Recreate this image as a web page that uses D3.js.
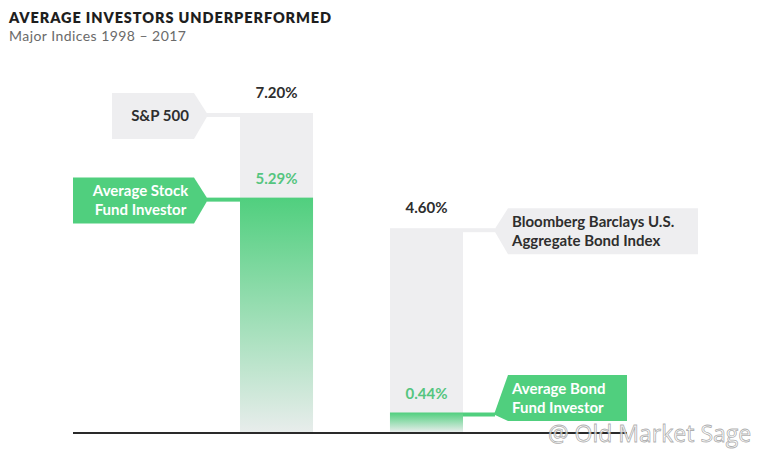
<!DOCTYPE html>
<html>
<head>
<meta charset="utf-8">
<script src="https://cdn.jsdelivr.net/npm/d3@7"></script>
<style>
  body { margin: 0; background: #fff; }
  svg { display: block; font-family: Lato, "Open Sans", sans-serif; }
</style>
</head>
<body>
<div id="chart"></div>
<script>
// data
var groups = ["Stocks", "Bonds"];
var indexNames = [["S&P 500"], ["Bloomberg Barclays U.S.", "Aggregate Bond Index"]];
var indexReturns = [7.20, 4.60];
var investorNames = [["Average Stock", "Fund Investor"], ["Average Bond", "Fund Investor"]];
var investorReturns = [5.29, 0.44];

var svgWidth = 768;
var svgHeight = 451;

var grey = "#eeeef0";
var green = "#50cf7e";
var greenText = "#55c57f";

var svg = d3.select("#chart")
    .append("svg")
    .attr("width", svgWidth)
    .attr("height", svgHeight);

// gradient for the investor bars
var grad = svg.append("defs").append("linearGradient")
    .attr("id", "greenFade")
    .attr("x1", 0).attr("y1", 0)
    .attr("x2", 0).attr("y2", 1);
grad.append("stop").attr("offset", "0%").attr("stop-color", green).attr("stop-opacity", 1);
grad.append("stop").attr("offset", "100%").attr("stop-color", green).attr("stop-opacity", 0.04);

// title
svg.append("text")
    .attr("x", 9)
    .attr("y", 23)
    .attr("font-size", 14.5)
    .attr("font-weight", 800)
    .attr("letter-spacing", 0.9)
    .attr("fill", "#1e1e1e")
    .text("AVERAGE INVESTORS UNDERPERFORMED");

svg.append("text")
    .attr("x", 9)
    .attr("y", 41)
    .attr("font-size", 14)
    .attr("letter-spacing", 0.45)
    .attr("fill", "#6a6a6a")
    .text("Major Indices 1998 \u2013 2017");

// scales
var x = d3.scaleBand()
    .domain(groups)
    .range([240, 463])
    .paddingInner(0.513)
    .paddingOuter(0);

var y = d3.scaleLinear()
    .domain([0, 7.2])
    .range([432, 113]);

var bw = x.bandwidth();

// index bars (grey)
svg.selectAll(".index-bar")
    .data(groups)
    .enter()
    .append("rect")
    .attr("class", "index-bar")
    .attr("x", d => x(d))
    .attr("y", (d, i) => y(indexReturns[i]))
    .attr("width", bw)
    .attr("height", (d, i) => y(0) - y(indexReturns[i]))
    .attr("fill", grey);

// investor bars (green fading)
svg.selectAll(".investor-bar")
    .data(groups)
    .enter()
    .append("rect")
    .attr("class", "investor-bar")
    .attr("x", d => x(d))
    .attr("y", (d, i) => y(investorReturns[i]))
    .attr("width", bw)
    .attr("height", (d, i) => y(0) - y(investorReturns[i]))
    .attr("fill", "url(#greenFade)");

// value labels
svg.selectAll(".index-val")
    .data(groups)
    .enter()
    .append("text")
    .attr("x", d => x(d) + bw / 2)
    .attr("y", (d, i) => y(indexReturns[i]) - 15)
    .attr("text-anchor", "middle")
    .attr("font-size", 15)
    .attr("font-weight", 700)
    .attr("fill", "#2e2e2e")
    .text((d, i) => indexReturns[i].toFixed(2) + "%");

svg.selectAll(".investor-val")
    .data(groups)
    .enter()
    .append("text")
    .attr("x", d => x(d) + bw / 2)
    .attr("y", (d, i) => y(investorReturns[i]) - 14)
    .attr("text-anchor", "middle")
    .attr("font-size", 15)
    .attr("font-weight", 700)
    .attr("fill", greenText)
    .text((d, i) => investorReturns[i].toFixed(2) + "%");

// callout boxes: first group points from the left, second group from the right
var boxH = 46;
var arrowW = 14;
var gap = 32;
var boxWidthsIndex = [82, 190];
var boxWidthsInvestor = [121, 119];
var lowest = y(0) - 11 - boxH / 2;   // keep boxes clear of the baseline

function callout(group, value, lines, fill, textFill, boxW) {
    var top = y(value);
    var cy = Math.min(top + 3, lowest);
    var tipY = Math.min(top + 2, cy + boxH / 2 - 4);
    var g = svg.append("g");
    var path, tx, anchor;
    if (group === groups[0]) {
        var tip = x(group) - gap;
        var right = tip - arrowW;
        var left = right - boxW;
        path = `M${left},${cy - boxH / 2}H${right}L${tip},${tipY}L${right},${cy + boxH / 2}H${left}Z`;
        g.append("rect")
            .attr("x", tip - 1).attr("y", top)
            .attr("width", x(group) - tip + 1).attr("height", 4)
            .attr("fill", fill);
        tx = (left + tip) / 2;
        anchor = "middle";
    } else {
        var tip = x(group) + bw + gap - 1;
        var left = tip + arrowW;
        var right = left + boxW;
        path = `M${right},${cy - boxH / 2}H${left}L${tip},${tipY}L${left},${cy + boxH / 2}H${right}Z`;
        g.append("rect")
            .attr("x", x(group) + bw).attr("y", top)
            .attr("width", tip - x(group) - bw + 1).attr("height", 4)
            .attr("fill", fill);
        tx = left + 4;
        anchor = "start";
    }
    g.append("path").attr("d", path).attr("fill", fill);
    var lineH = 19;
    var first = cy + 5 - (lines.length - 1) * lineH / 2;
    g.selectAll("text")
        .data(lines)
        .enter()
        .append("text")
        .attr("x", tx)
        .attr("y", (d, i) => first + i * lineH)
        .attr("text-anchor", anchor)
        .attr("font-size", 15)
        .attr("font-weight", 700)
        .attr("fill", textFill)
        .text(d => d);
}

groups.forEach(function (gname, i) {
    callout(gname, indexReturns[i], indexNames[i], grey, "#2e2e2e", boxWidthsIndex[i]);
    callout(gname, investorReturns[i], investorNames[i], green, "#ffffff", boxWidthsInvestor[i]);
});

// baseline
svg.append("line")
    .attr("x1", 73)
    .attr("x2", 627)
    .attr("y1", y(0) + 1)
    .attr("y2", y(0) + 1)
    .attr("stroke", "#2a2a2a")
    .attr("stroke-width", 2);

// watermark
svg.append("text")
    .attr("x", 548)
    .attr("y", 442)
    .attr("font-family", "'Open Sans', sans-serif")
    .attr("font-size", 23)
    .attr("fill", "#ffffff")
    .attr("fill-opacity", 0.75)
    .attr("stroke", "#8a8a8a")
    .attr("stroke-opacity", 0.7)
    .attr("stroke-width", 0.8)
    .text("@ Old Market Sage");
</script>
</body>
</html>
